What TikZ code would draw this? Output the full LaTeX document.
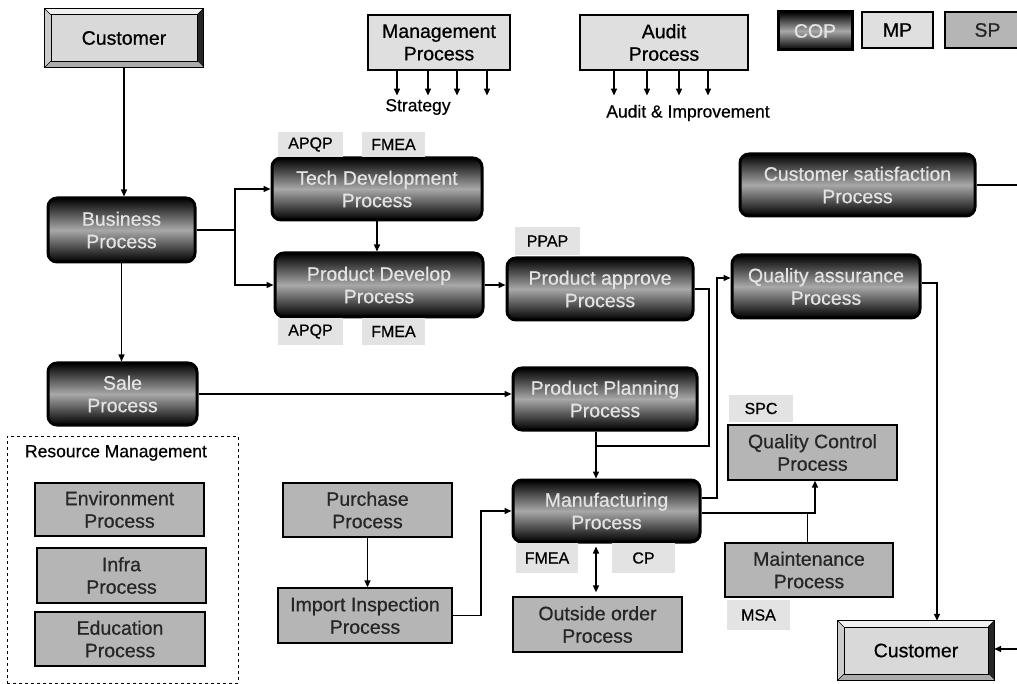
\documentclass[tikz,border=0pt]{standalone}
\usepackage{fontspec}
\setmainfont{Liberation Sans}
\newfontfamily\dgHeavy[FakeBold=0.6]{Liberation Sans}
\usetikzlibrary{arrows.meta,calc}

\newcommand\dgBoxFont{\dgHeavy\fontsize{19.5}{22.5}\selectfont}
\newcommand\dgTagFont{\dgHeavy\fontsize{16}{18}\selectfont}
\newcommand\dgLblFont{\dgHeavy\fontsize{17.5}{20}\selectfont}

% node placed by its corners: name, style, x1, y1, x2, y2, text
\newcommand\placebox[7]{%
  \node[#2, minimum width={(#5)-(#3)}, minimum height={(#6)-(#4)}]
    (#1) at ({((#3)+(#5))/2},{((#4)+(#6))/2}) {#7};}

% raised (bevelled) box
\newcommand\bevelbox[6]{%
  \placebox{#1}{bevel}{#2}{#3}{#4}{#5}{#6}
  \fill[gray!12] (#1.north west) -- (#1.north east) -- ($(#1.north east)+(-6,6)$) -- ($(#1.north west)+(6,6)$) -- cycle;
  \fill[gray!40] (#1.north west) -- ($(#1.north west)+(6,6)$) -- ($(#1.south west)+(6,-6)$) -- (#1.south west) -- cycle;
  \fill[black!85] (#1.north east) -- (#1.south east) -- ($(#1.south east)+(-6,-6)$) -- ($(#1.north east)+(-6,6)$) -- cycle;
  \fill[gray!65] (#1.south west) -- (#1.south east) -- ($(#1.south east)+(-6,-6)$) -- ($(#1.south west)+(6,-6)$) -- cycle;
  \draw[line width=0.6pt] ($(#1.north west)+(6,6)$) rectangle ($(#1.south east)+(-6,-6)$);
  \draw[line width=0.6pt] (#1.north west) -- ($(#1.north west)+(6,6)$)
        (#1.north east) -- ($(#1.north east)+(-6,6)$)
        (#1.south west) -- ($(#1.south west)+(6,-6)$);
  \draw[line width=0.8pt] (#1.north west) rectangle (#1.south east);}

\begin{document}
\begin{tikzpicture}[x=1pt,y=-1pt,
  line/.style={line width=1.4pt},
  conn/.style={line width=1.4pt,-{Triangle[length=7pt,width=6pt]}},
  bothconn/.style={line width=1.4pt,{Triangle[length=7pt,width=6pt]}-{Triangle[length=7pt,width=6pt]}},
  cop/.style={rounded corners=9pt, draw=black, line width=3pt,
    top color=black, bottom color=black, middle color=gray!68,
    text=gray!22, font=\dgBoxFont, align=center, inner sep=0pt},
  copsq/.style={cop, rounded corners=0pt},
  mp/.style={draw=black, line width=1.2pt, fill=gray!25, font=\dgBoxFont,
    align=center, inner sep=0pt},
  sp/.style={draw=black, line width=1.3pt, fill=gray!58, text=black!85,
    font=\dgBoxFont, align=center, inner sep=0pt},
  tag/.style={fill=gray!22, font=\dgTagFont, inner sep=0pt},
  bevel/.style={fill=gray!30, font=\dgBoxFont, inner sep=0pt},
  lbl/.style={font=\dgLblFont, inner sep=0pt}]

\useasboundingbox (0,0) rectangle (1017,684);
\clip (0,0) rectangle (1017,684);

% ---- legend ----
\placebox{lcop}{copsq}{778}{12}{852}{50}{COP}
\placebox{lmp}{mp}{862}{12}{933}{48}{MP}
\placebox{lsp}{sp}{945}{12}{1030}{48}{SP}

% ---- management processes ----
\placebox{mgmt}{mp}{368}{15}{510}{70}{Management\\Process}
\placebox{audit}{mp}{580}{15}{748}{70}{Audit\\Process}
\foreach \dx in {-42,-11,18,48}
  \draw[conn] ([xshift=\dx pt]mgmt.south) -- ++(0,25);
\foreach \dx in {-50,-17,15,44}
  \draw[conn] ([xshift=\dx pt]audit.south) -- ++(0,25);
\node[lbl] (strat) at (418,107) {Strategy};
\node[lbl] (audimp) at (688,113) {Audit \& Improvement};

% ---- customers ----
\bevelbox{cust}{45}{9}{203}{67}{Customer}
\bevelbox{cust2}{838}{621}{994}{680}{Customer}

% ---- core processes ----
\placebox{biz}{cop}{48}{198}{195}{262}{Business\\Process}
\placebox{tech}{cop}{272}{158}{482}{220}{Tech Development\\Process}
\placebox{prod}{cop}{275}{253}{483}{317}{Product Develop\\Process}
\placebox{appr}{cop}{507}{258}{693}{320}{Product approve\\Process}
\placebox{csat}{cop}{740}{154}{975}{216}{Customer satisfaction\\Process}
\placebox{qa}{cop}{732}{255}{920}{318}{Quality assurance\\Process}
\placebox{sale}{cop}{48}{363}{197}{425}{Sale\\Process}
\placebox{plan}{cop}{513}{368}{697}{430}{Product Planning\\Process}
\placebox{mfg}{cop}{513}{480}{700}{542}{Manufacturing\\Process}

% ---- support processes ----
\placebox{purch}{sp}{283}{483}{452}{537}{Purchase\\Process}
\placebox{imp}{sp}{278}{588}{452}{643}{Import Inspection\\Process}
\placebox{out}{sp}{513}{597}{682}{652}{Outside order\\Process}
\placebox{qc}{sp}{728}{425}{897}{480}{Quality Control\\Process}
\placebox{maint}{sp}{725}{543}{893}{597}{Maintenance\\Process}

% ---- resource management group ----
\placebox{rm}{draw=black, dashed, line width=1pt}{7}{436}{238}{683}{}
\node[lbl] (rmlbl) at (116,453) {Resource Management};
\placebox{env}{sp}{35}{483}{204}{536}{Environment\\Process}
\placebox{infra}{sp}{37}{548}{206}{603}{Infra\\Process}
\placebox{edu}{sp}{35}{612}{205}{666}{Education\\Process}

% ---- tool tags ----
\placebox{apqp1}{tag}{278}{132}{343}{157}{APQP}
\placebox{fmea1}{tag}{362}{132}{425}{157}{FMEA}
\placebox{apqp2}{tag}{278}{318}{343}{345}{APQP}
\placebox{fmea2}{tag}{362}{318}{425}{345}{FMEA}
\placebox{ppap}{tag}{515}{227}{580}{255}{PPAP}
\placebox{spc}{tag}{729}{395}{793}{422}{SPC}
\placebox{msa}{tag}{727}{600}{790}{630}{MSA}
\placebox{fmea3}{tag}{516}{543}{578}{573}{FMEA}
\placebox{cp}{tag}{612}{543}{675}{573}{CP}

% ---- junction points ----
\coordinate (bj) at (235,0);
\coordinate (mj) at (596,446);
\coordinate (pj) at (709,446);
\coordinate (qj) at (717,278);
\coordinate (cj) at (815,513);
\coordinate (nj) at (807,513);
\coordinate (aj) at (937,283);
\coordinate (ij) at (481,0);
\coordinate (re) at (1017,649);
\coordinate (re2) at (1017,186);

% ---- connectors ----
\draw[conn] (cust.south) -- (cust.south |- biz.north);
\draw[conn] (biz.east) -- (biz.east -| bj) |- (tech.west);
\draw[conn] (biz.east -| bj) |- (prod.west);
\draw[conn] (tech.south) -- (tech.south |- prod.north);
\draw[conn] (prod.east) -- (prod.east -| appr.west);
\draw[conn] (biz.south) -- (biz.south |- sale.north);
\draw[conn] (sale.east) -- (sale.east -| plan.west);
\draw[line] (appr.east) -| (pj) -- (mj);
\draw[conn] (plan.south -| mj) -- (mfg.north -| mj);
\draw[conn] ([yshift=13pt]mfg.east) -| (qj) -- (qa.west |- qj);
\draw[conn] (mfg.east |- cj) -- (cj) -- (cj |- qc.south);
\draw[line width=0.9pt] (nj |- maint.north) -- (nj);
\draw[conn] (qa.east |- aj) -- (aj) -- (aj |- cust2.north);
\draw[conn] (re) -- (re -| cust2.east);
\draw[line] (csat.east) -- (csat.east -| re2);
\draw[conn] (purch.south) -- (purch.south |- imp.north);
\draw[conn] (imp.east) -- (imp.east -| ij) -- (ij |- mfg.west) -- (mfg.west);
\draw[bothconn] ([yshift=-3pt]mfg.south -| mj) -- ([yshift=4pt]out.north -| mj);

\end{tikzpicture}
\end{document}
